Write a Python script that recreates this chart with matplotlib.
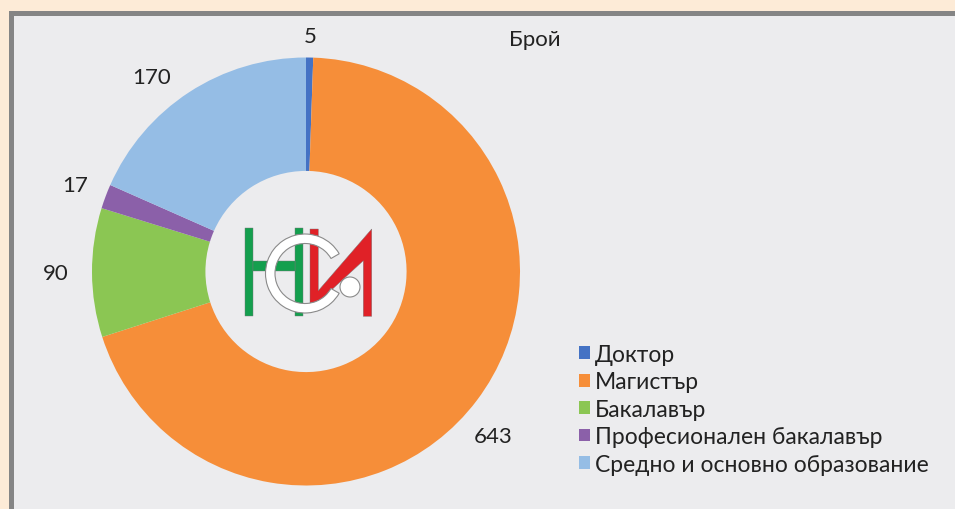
import numpy as np
import matplotlib
matplotlib.use("Agg")
import matplotlib.pyplot as plt
from matplotlib.patches import Rectangle, Polygon, Wedge, Circle

plt.rcParams['font.family'] = ['Lato', 'Open Sans', 'DejaVu Sans']

# data
categories = ['Доктор', 'Магистър', 'Бакалавър', 'Професионален бакалавър',
              'Средно и основно образование']
values = [5, 643, 90, 17, 170]
colors = ['#4472C4', '#F68E39', '#8BC653', '#8B60A9', '#95BDE5']
title = 'Брой'

# label placement (radius, angle shift in deg) like the excel chart
label_r = [1.10, 1.165, 1.17, 1.15, 1.16]
label_shift = [0, -4.3, 0, 0, 5.3]

W, H = 955, 510
fig = plt.figure(figsize=(W / 100, H / 100), dpi=100, facecolor='#FDEBD7')

# background + logo, drawn in pixel coords
bg = fig.add_axes([0, 0, 1, 1])
bg.set_xlim(0, W)
bg.set_ylim(H, 0)
bg.axis('off')
bg.add_patch(Rectangle((10.5, 13.5), W, H, facecolor='#ECECEE',
                       edgecolor='#858585', linewidth=3.6))

# logo: green H
green = '#149F4E'
red = '#E02127'
for x0, y0, w, h in [(245, 229, 8, 88), (295, 229, 8, 88), (253, 262, 42, 10)]:
    bg.add_patch(Rectangle((x0, y0), w, h, facecolor=green, edgecolor='#777777', lw=0.3))
# red И
bg.add_patch(Polygon([(310, 230), (318.3, 230), (318.3, 291.7), (371.7, 230),
                      (371.7, 317.3), (363.3, 317.3), (363.3, 261.7), (310, 310.7)],
                     closed=True, facecolor=red, edgecolor='#777777', lw=0.3))
# white C ring and dot (y axis is inverted, so angles flip)
bg.add_patch(Wedge((305, 274.5), 39.5, 30, 330, width=9.5, facecolor='white',
                   edgecolor='#8a8a8a', lw=0.8))
bg.add_patch(Circle((350, 288), 10, facecolor='white', edgecolor='#8a8a8a', lw=0.8))

# donut
cx, cy, r = 306, 272.5, 214
ax = fig.add_axes([(cx - r) / W, (H - cy - r) / H, 2 * r / W, 2 * r / H])
ax.set_facecolor('none')
total = sum(values)
wedges, _, autotexts = ax.pie(values, colors=colors, startangle=90, counterclock=False,
                              radius=1, wedgeprops=dict(width=0.53, linewidth=0),
                              autopct=lambda p: '%d' % round(p * total / 100),
                              pctdistance=1.15,
                              textprops=dict(fontsize=16, color='#222222'))
for w, t, lr, sh in zip(wedges, autotexts, label_r, label_shift):
    a = np.deg2rad((w.theta1 + w.theta2) / 2 + sh)
    t.set_position((lr * np.cos(a), lr * np.sin(a)))
ax.set_xlim(-1, 1)
ax.set_ylim(-1, 1)
ax.set_aspect('equal')

fig.text(535 / W, 1 - 40 / H, title, fontsize=16, color='#222222', ha='center', va='center')

leg = fig.legend(wedges, categories, loc='upper left', bbox_to_anchor=(579 / W, 1 - 345 / H),
                 frameon=False, fontsize=16.5, handlelength=0.48, handleheight=0.48,
                 handletextpad=0.22, labelspacing=0.28, borderpad=0, borderaxespad=0)
for t in leg.get_texts():
    t.set_color('#222222')

fig.savefig('out.png', dpi=100, facecolor=fig.get_facecolor())
